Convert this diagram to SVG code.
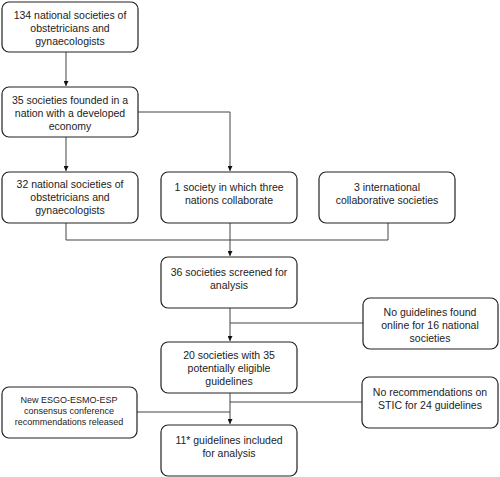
<svg xmlns="http://www.w3.org/2000/svg" width="500" height="477" viewBox="0 0 500 477">
<defs>
<style>
.box{fill:#fff;stroke:#222;stroke-width:1.2}
.t{font-family:"Liberation Sans",Arial,sans-serif;font-size:10.5px;fill:#222;text-anchor:middle}
.s{font-size:9px}
.c{fill:none;stroke:#444;stroke-width:1}
</style>
<marker id="ah" viewBox="0 0 10 10" refX="10" refY="5" markerWidth="5" markerHeight="5" orient="auto" markerUnits="userSpaceOnUse">
<path d="M0,0 L10,5 L0,10 z" fill="#111"/>
</marker>
</defs>
<rect width="500" height="477" fill="#fff"/>
<g id="connectors">
<path class="c" d="M66,52 V86" marker-end="url(#ah)"/>
<path class="c" d="M138,112 H230 V171" marker-end="url(#ah)"/>
<path class="c" d="M66,137 V171" marker-end="url(#ah)"/>
<path class="c" d="M66,223 V240 H388 V223"/>
<path class="c" d="M230,223 V256" marker-end="url(#ah)"/>
<path class="c" d="M230,308 V341" marker-end="url(#ah)"/>
<path class="c" d="M230,323 H363"/>
<path class="c" d="M230,393 V424" marker-end="url(#ah)"/>
<path class="c" d="M230,402 H362"/>
<path class="c" d="M137,412 H230"/>
</g>
<g id="n1"><rect class="box" x="2" y="2" width="136" height="50" rx="7"/>
<text class="t" x="70" y="19">134 national societies of</text><text class="t" x="70" y="32">obstetricians and</text><text class="t" x="70" y="45">gynaecologists</text></g>
<g id="n2"><rect class="box" x="2" y="87" width="136" height="50" rx="7"/>
<text class="t" x="70" y="104">35 societies founded in a</text><text class="t" x="70" y="117">nation with a developed</text><text class="t" x="70" y="130">economy</text></g>
<g id="n3"><rect class="box" x="2" y="172" width="136" height="51" rx="7"/>
<text class="t" x="70" y="188">32 national societies of</text><text class="t" x="70" y="201">obstetricians and</text><text class="t" x="70" y="214">gynaecologists</text></g>
<g id="n4"><rect class="box" x="161" y="172" width="136" height="51" rx="7"/>
<text class="t" x="229" y="191">1 society in which three</text><text class="t" x="229" y="204">nations collaborate</text></g>
<g id="n5"><rect class="box" x="319" y="172" width="136" height="51" rx="7"/>
<text class="t" x="387" y="191">3 international</text><text class="t" x="387" y="204">collaborative societies</text></g>
<g id="n6"><rect class="box" x="161" y="257" width="136" height="51" rx="7"/>
<text class="t" x="229" y="276">36 societies screened for</text><text class="t" x="229" y="289">analysis</text></g>
<g id="n7"><rect class="box" x="363" y="298" width="135" height="51" rx="7"/>
<text class="t" x="430" y="316">No guidelines found</text><text class="t" x="430" y="329">online for 16 national</text><text class="t" x="430" y="342">societies</text></g>
<g id="n8"><rect class="box" x="161" y="342" width="136" height="51" rx="7"/>
<text class="t" x="229" y="359">20 societies with 35</text><text class="t" x="229" y="372">potentially eligible</text><text class="t" x="229" y="385">guidelines</text></g>
<g id="n9"><rect class="box" x="362" y="377" width="136" height="51" rx="7"/>
<text class="t" x="430" y="396">No recommendations on</text><text class="t" x="430" y="409">STIC for 24 guidelines</text></g>
<g id="n10"><rect class="box" x="2" y="387" width="135" height="51" rx="7"/>
<text class="t s" x="69" y="403">New ESGO-ESMO-ESP</text><text class="t s" x="69" y="414">consensus conference</text><text class="t s" x="69" y="425">recommendations released</text></g>
<g id="n11"><rect class="box" x="161" y="425" width="136" height="51" rx="7"/>
<text class="t" x="229" y="444">11* guidelines included</text><text class="t" x="229" y="457">for analysis</text></g>
</svg>
